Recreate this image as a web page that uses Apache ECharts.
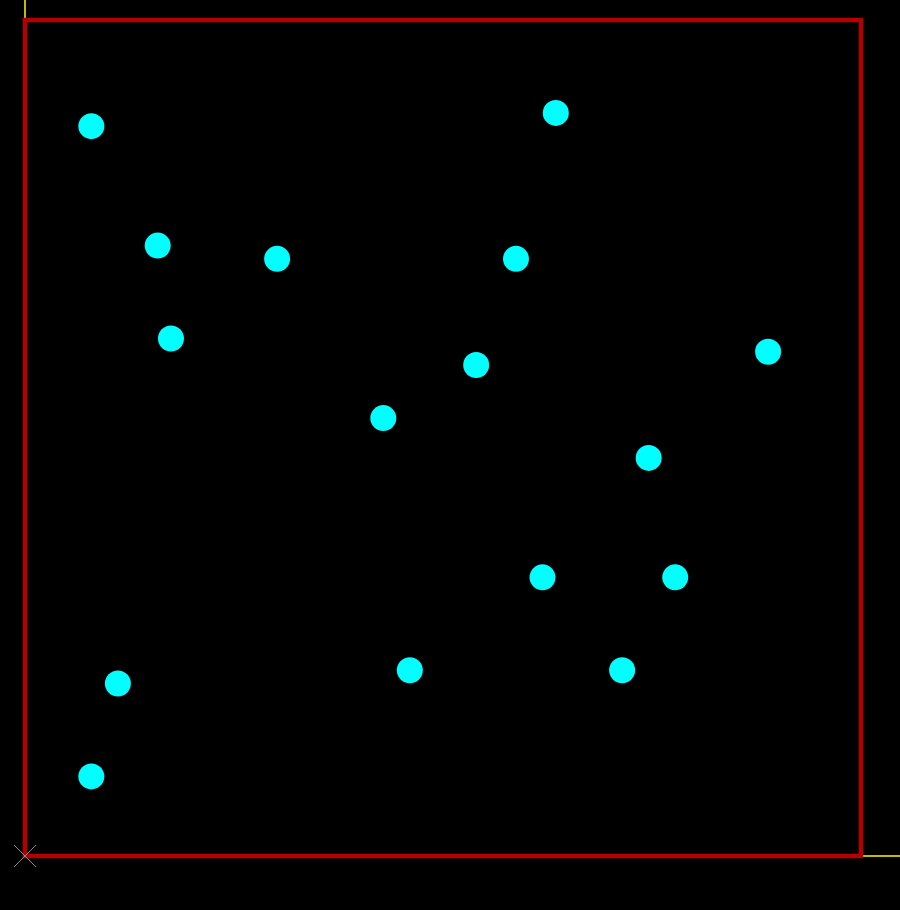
<!DOCTYPE html>
<html>
<head>
<meta charset="utf-8">
<script src="https://cdn.jsdelivr.net/npm/echarts@6/dist/echarts.min.js"></script>
<style>
html,body{margin:0;padding:0;background:#000;}
#c{width:900px;height:910px;}
</style>
</head>
<body>
<div id="c"></div>
<script>
// Board extent (grid units)
const boardMin = 0;
const boardMax = 63;
// Pad / via positions (grid units)
const padX = [5, 40, 10, 19, 37, 11, 34, 56, 27, 47, 39, 49, 7, 29, 45, 5];
const padY = [55, 56, 46, 45, 45, 39, 37, 38, 33, 30, 21, 21, 13, 14, 14, 6];
// Board outline corners
const outlineX = [0, 63, 63, 0, 0];
const outlineY = [0, 0, 63, 63, 0];
// Axis stubs extending beyond the board: [x1, y1, x2, y2]
const axisStubs = [[0, 63, 0, 64.6], [63, 0, 66.2, 0]];
// Origin marker
const origin = [[0, 0]];

const chart = echarts.init(document.getElementById('c'), null, {renderer: 'canvas'});
chart.setOption({
  backgroundColor: '#000000',
  animation: false,
  grid: {left: 25, top: 20, width: 836, height: 836},
  xAxis: {type: 'value', min: boardMin, max: boardMax, show: false},
  yAxis: {type: 'value', min: boardMin, max: boardMax, show: false},
  series: [
    {
      type: 'custom', data: axisStubs, clip: false, z: 1,
      renderItem: function (params, api) {
        const p1 = api.coord([api.value(0), api.value(1)]);
        const p2 = api.coord([api.value(2), api.value(3)]);
        return {
          type: 'line',
          shape: {x1: p1[0], y1: p1[1], x2: p2[0], y2: p2[1]},
          style: {stroke: '#ffff00', lineWidth: 1.5}
        };
      }
    },
    {
      type: 'line', data: outlineX.map((x, i) => [x, outlineY[i]]), clip: false, symbol: 'none', z: 2,
      lineStyle: {color: '#b40000', width: 4.5, join: 'miter', cap: 'square'}
    },
    {
      type: 'scatter', data: origin, clip: false, z: 3,
      symbol: 'path://M0,0L10,10M10,0L0,10', symbolSize: 22,
      itemStyle: {color: 'none', borderColor: '#8a8a8a', borderWidth: 1, opacity: 1}
    },
    {
      type: 'scatter', data: padX.map((x, i) => [x, padY[i]]), z: 4,
      symbol: 'circle', symbolSize: 26,
      itemStyle: {color: '#00ffff', opacity: 1}
    }
  ]
});
</script>
</body>
</html>
